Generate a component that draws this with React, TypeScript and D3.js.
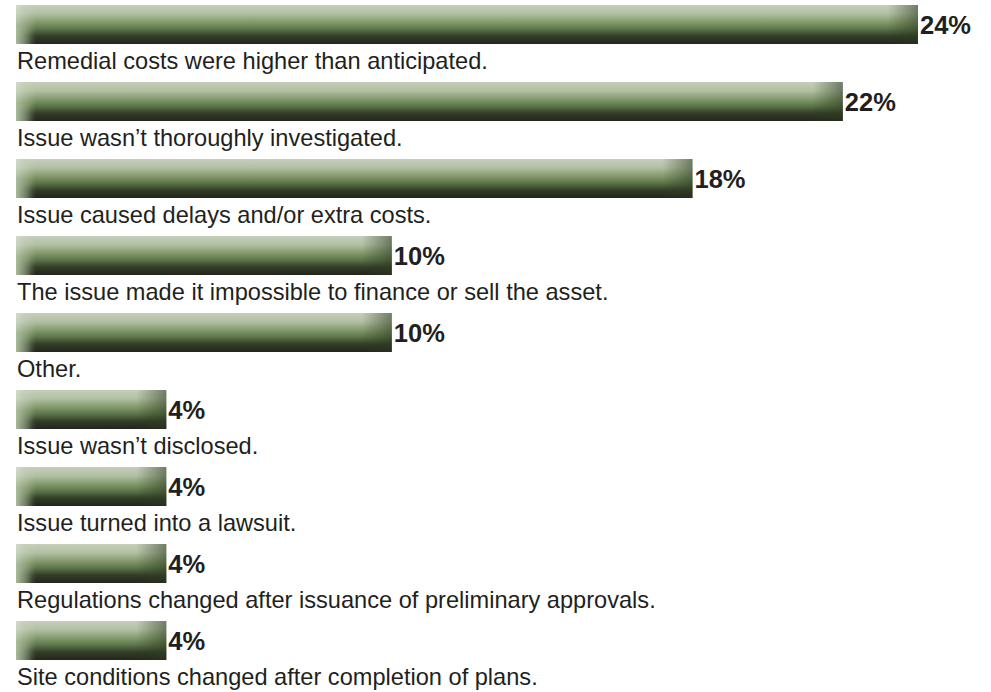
import React from "react";
import * as d3 from "d3";

const categories = [
  "Remedial costs were higher than anticipated.",
  "Issue wasn\u2019t thoroughly investigated.",
  "Issue caused delays and/or extra costs.",
  "The issue made it impossible to finance or sell the asset.",
  "Other.",
  "Issue wasn\u2019t disclosed.",
  "Issue turned into a lawsuit.",
  "Regulations changed after issuance of preliminary approvals.",
  "Site conditions changed after completion of plans.",
];
const values = [24, 22, 18, 10, 10, 4, 4, 4, 4];
const valueLabels = ["24%", "22%", "18%", "10%", "10%", "4%", "4%", "4%", "4%"];

const W = 991;
const H = 692;
const FONT = "Helvetica, 'Liberation Sans', Arial, sans-serif";

export default function App() {
  const x = d3.scaleLinear().domain([0, 24]).range([16, 918]);
  const y = d3.scaleBand<string>().domain(categories).range([5, 5 + 77 * categories.length]);
  const barH = 39;

  return (
    <div style={{ position: "fixed", left: 0, top: 0 }}>
      <svg width={W} height={H} style={{ display: "block", background: "#fff" }}>
        <defs>
          <linearGradient id="vgrad" x1="0" y1="0" x2="0" y2="1">
            <stop offset="0" stopColor="#c5cebb" />
            <stop offset="0.22" stopColor="#b2c0a4" />
            <stop offset="0.45" stopColor="#819869" />
            <stop offset="0.62" stopColor="#5b7448" />
            <stop offset="0.8" stopColor="#323d27" />
            <stop offset="1" stopColor="#22261a" />
          </linearGradient>
          <linearGradient id="lgrad" x1="0" y1="0" x2="1" y2="0">
            <stop offset="0" stopColor="#dfe5d8" stopOpacity="0.55" />
            <stop offset="0.5" stopColor="#c9d3bd" stopOpacity="0.35" />
            <stop offset="1" stopColor="#c9d3bd" stopOpacity="0" />
          </linearGradient>
          <linearGradient id="lgradB" x1="0" y1="0" x2="1" y2="0">
            <stop offset="0" stopColor="#6f8e58" stopOpacity="0.9" />
            <stop offset="1" stopColor="#6f8e58" stopOpacity="0" />
          </linearGradient>
          <linearGradient id="rgrad" x1="0" y1="0" x2="1" y2="0">
            <stop offset="0" stopColor="#2c3a20" stopOpacity="0" />
            <stop offset="1" stopColor="#2c3a20" stopOpacity="0.55" />
          </linearGradient>
        </defs>
        {categories.map((c, i) => {
          const y0 = y(c) as number;
          const x0 = x(0);
          const x1 = x(values[i]);
          return (
            <g key={c}>
              <rect x={x0} y={y0} width={x1 - x0} height={barH} fill="url(#vgrad)" />
              <rect x={x0} y={y0 + barH * 0.55} width={16} height={barH * 0.45} fill="url(#lgradB)" />
              <rect x={x0} y={y0} width={20} height={barH} fill="url(#lgrad)" />
              <rect x={x1 - 30} y={y0} width={30} height={barH} fill="url(#rgrad)" />
              <text
                x={x1 + 2}
                y={y0 + 28.5}
                fontFamily={FONT}
                fontWeight="bold"
                fontSize={25.5}
                fill="#231f20"
              >
                {valueLabels[i]}
              </text>
              <text x={x0 + 1} y={y0 + barH + 25} fontFamily={FONT} fontSize={23.6} fill="#231f20">
                {c}
              </text>
            </g>
          );
        })}
      </svg>
    </div>
  );
}
